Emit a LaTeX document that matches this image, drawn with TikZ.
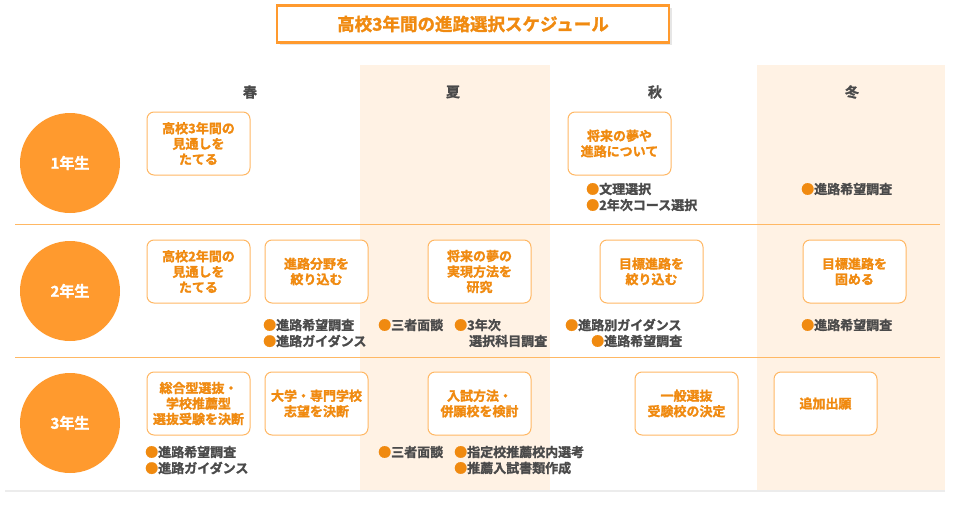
\documentclass[tikz,border=0pt]{standalone}
\usepackage{fontspec}
\setmainfont{Noto Sans CJK JP}[UprightFont=* Bold,FakeBold=1.5]
\usetikzlibrary{shadows}
\definecolor{org}{HTML}{FF9A2E}
\definecolor{ot}{HTML}{F08A10}
\definecolor{bx}{HTML}{FFB864}
\definecolor{sh}{HTML}{FFF2E4}
\definecolor{gt}{HTML}{4A4A4A}
\tikzset{
 yr/.style={circle,fill=org,minimum size=100pt,text=white,font=\fontsize{15}{17}\selectfont},
 bx/.style={draw=bx,line width=1pt,rounded corners=7pt,fill=white,minimum width=103pt,minimum height=63pt,align=center,text=ot,font=\fontsize{13}{15.5}\selectfont,inner sep=1pt},
 it/.style={anchor=west,text=gt,font=\fontsize{13}{15}\selectfont,inner sep=0pt},
 hd/.style={text=gt,font=\fontsize{14}{16}\selectfont}
}
\newcommand{\bul}{\textcolor{ot}{●}}
\begin{document}
\begin{tikzpicture}[x=1pt,y=-1pt]
\useasboundingbox (0,0) rectangle (978,517);
\fill[white,drop shadow={opacity=0.15,shadow xshift=0pt,shadow yshift=-2pt}] (5,65) rectangle (945,490);
\fill[sh] (360,65) rectangle (550,490);
\fill[sh] (757,65) rectangle (945,490);
\draw[bx,line width=1pt] (15,224) -- (940,224);
\draw[bx,line width=1pt] (15,357) -- (940,357);
\node[draw=org,line width=2.5pt,fill=white,minimum width=392pt,minimum height=37pt,text=ot,font=\fontsize{17.5}{19}\selectfont,drop shadow={opacity=0.2}] (t) at (473,24) {高校3年間の進路選択スケジュール};
\node[hd] (h1) at (250,92) {春};
\node[hd] (h2) at (453,92) {夏};
\node[hd] (h3) at (655,92) {秋};
\node[hd] (h4) at (852,92) {冬};
\node[yr] (y1) at (70,163) {1年生};
\node[yr] (y2) at (70,291) {2年生};
\node[yr] (y3) at (70,423) {3年生};
\node[bx] (a1) at (198.5,143.5) {高校3年間の\\見通しを\\たてる};
\node[bx] (a2) at (619.5,143.5) {将来の夢や\\進路について};
\node[it] (i1) at (586,189) {\bul 文理選択};
\node[it] (i2) at (586,205) {\bul 2年次コース選択};
\node[it] (i3) at (801,189) {\bul 進路希望調査};
\node[bx] (b1) at (198.5,271.5) {高校2年間の\\見通しを\\たてる};
\node[bx] (b2) at (316.5,271.5) {進路分野を\\絞り込む};
\node[bx] (b3) at (479.5,271.5) {将来の夢の\\実現方法を\\研究};
\node[bx] (b4) at (651.5,271.5) {目標進路を\\絞り込む};
\node[bx] (b5) at (854.5,271.5) {目標進路を\\固める};
\node[it] (j1) at (263,325) {\bul 進路希望調査};
\node[it] (j2) at (263,341) {\bul 進路ガイダンス};
\node[it] (j3) at (378,325) {\bul 三者面談};
\node[it] (j4) at (454,325) {\bul 3年次};
\node[it] (j5) at (469,341) {選択科目調査};
\node[it] (j6) at (565,325) {\bul 進路別ガイダンス};
\node[it] (j7) at (591,341) {\bul 進路希望調査};
\node[it] (j8) at (801,325) {\bul 進路希望調査};
\node[bx] (c1) at (198.5,403.5) {総合型選抜・\\学校推薦型\\選抜受験を決断};
\node[bx] (c2) at (316.5,403.5) {大学・専門学校\\志望を決断};
\node[bx] (c3) at (479.5,403.5) {入試方法・\\併願校を検討};
\node[bx] (c4) at (686.5,403.5) {一般選抜\\受験校の決定};
\node[bx] (c5) at (825.5,403.5) {追加出願};
\node[it] (k1) at (145,452) {\bul 進路希望調査};
\node[it] (k2) at (145,468) {\bul 進路ガイダンス};
\node[it] (k3) at (378,452) {\bul 三者面談};
\node[it] (k4) at (454,452) {\bul 指定校推薦校内選考};
\node[it] (k5) at (454,468) {\bul 推薦入試書類作成};
\end{tikzpicture}
\end{document}
